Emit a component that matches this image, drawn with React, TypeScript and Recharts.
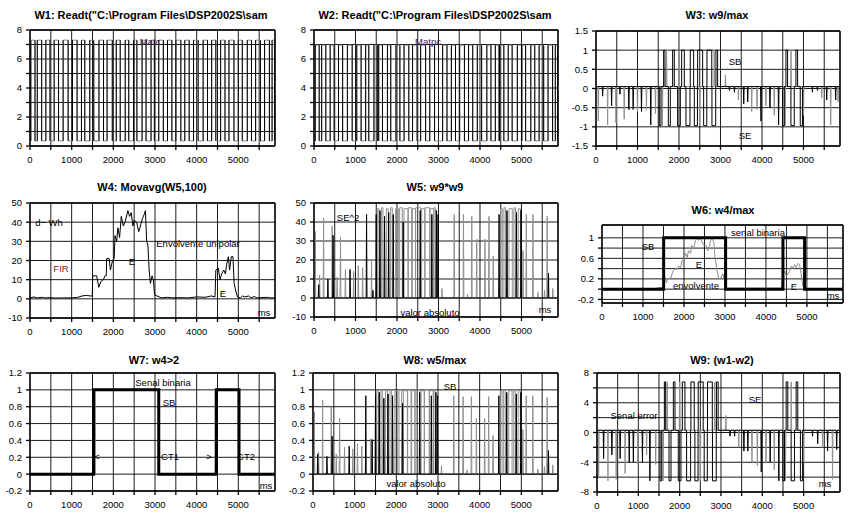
import React from 'react';
import { LineChart, Line, XAxis, YAxis, CartesianGrid, ReferenceLine } from 'recharts';

type Pt = { t: number; v: number | null };
type Pulse = [number, number];
type Spike = [number, number];
type Block = [number, number, number];

const X_MAX = 5880;
const X_TICKS = [0, 500, 1000, 1500, 2000, 2500, 3000, 3500, 4000, 4500, 5000, 5500];
const FONT = "'Liberation Sans', Arial, sans-serif";
const GRAY = '#8f8f8f';
const BLACK = '#000';

// W1 / W2: recorded pulse trains (high intervals, ms)
const w1Pulses: Pulse[] = [
  [20, 120], [175, 280], [380, 480], [580, 685], [795, 915], [1020, 1130], [1235, 1315], [1435, 1530],
  [1655, 1765], [1850, 1975], [2070, 2165], [2285, 2370], [2485, 2565], [2690, 2785], [2905, 2985],
  [3090, 3200], [3300, 3405], [3500, 3620], [3715, 3820], [3925, 4035], [4155, 4260], [4360, 4460],
  [4575, 4680], [4775, 4895], [5000, 5095], [5215, 5315], [5415, 5530], [5630, 5745], [5810, 5870],
];
const w2Pulses: Pulse[] = [
  [30, 125], [185, 285], [390, 485], [590, 690], [805, 920], [1030, 1135], [1245, 1320], [1445, 1535],
  [1560, 1650], [1770, 1850], [1975, 2070], [2170, 2285], [2375, 2485], [2570, 2690], [2790, 2905],
  [3100, 3205], [3310, 3410], [3510, 3625], [3725, 3825], [3935, 4040], [4165, 4265], [4370, 4460],
  [4470, 4575], [4680, 4775], [4900, 5000], [5010, 5100], [5225, 5320], [5425, 5535], [5640, 5750], [5815, 5870],
];
const w1Levels = [0.35, 7.3];
const w2Levels = [0.35, 6.95];

// plateaus of the error signal inside the two active zones: [start, end, sign]
const activeBlocks: Block[] = [
  [1526, 1566, -1], [1630, 1662, 1], [1743, 1791, -1], [1847, 1887, 1], [1967, 2032, -1], [2064, 2128, 1],
  [2168, 2265, -1], [2272, 2353, 1], [2369, 2445, -1], [2449, 2570, 1], [2594, 2670, -1], [2674, 2790, 1],
  [2794, 2885, -1], [2891, 2931, 1], [4497, 4537, -1], [4577, 4617, 1], [4698, 4778, -1], [4818, 4858, 1],
  [4922, 4975, -1],
];

// W3: w9/max
const w3Gray: Spike[] = [
  [56, -0.85], [280, -0.95], [480, -0.9], [680, -0.8], [1000, -0.6], [1216, -0.55], [1432, -0.65],
  [1600, -0.97], [1700, 1], [2000, 1], [2500, -0.97], [2850, 1], [3120, 0.35], [3432, -0.3], [3752, -0.6],
  [3880, -0.55], [4096, -0.45], [4296, -0.7], [4560, -0.97], [4700, 1], [5000, -0.7], [5440, -0.25],
  [5656, -0.95], [5832, -0.35],
];
const w3Black: Spike[] = [
  [160, -0.2], [376, -0.45], [576, -0.15], [792, -0.55], [896, -0.55], [1096, -0.6], [1320, -0.95],
  [3216, -0.05], [3336, -0.1], [3560, -0.4], [3656, -0.35], [3976, -0.85], [4192, -0.5], [4400, -0.95],
  [5216, -0.1], [5336, -0.05], [5560, -0.3], [5776, -0.3],
];
const w3Levels = [0.05, 1, -0.97]; // base, high, low

// W4: moving average envelope
const w4Curve: Spike[] = [
  [0, 0.5], [100, 1], [150, 0.5], [300, 0.8], [350, 0.5], [500, 0.6], [600, 0.4], [800, 0.5], [1000, 0.5],
  [1150, 0.8], [1250, 1.5], [1350, 1.8], [1450, 1.5], [1495, 1.5], [1505, 12], [1600, 12], [1650, 6],
  [1700, 9], [1760, 10], [1800, 12], [1830, 12], [1840, 21], [1900, 21], [1930, 15], [1980, 20], [2020, 21],
  [2040, 33], [2080, 30], [2110, 37], [2150, 32], [2190, 43], [2240, 38], [2280, 40], [2350, 46], [2390, 43],
  [2430, 45], [2470, 38], [2500, 41], [2560, 40], [2610, 35], [2650, 38], [2700, 42], [2740, 44], [2770, 46],
  [2800, 30], [2830, 28], [2860, 15], [2890, 8], [2930, 12], [2960, 10], [2990, 2], [3050, 1.5], [3150, 0.5],
  [3300, 0.8], [3400, 0.5], [3600, 0.6], [3800, 0.5], [4000, 1], [4200, 0.8], [4350, 1.5], [4440, 1],
  [4460, 15], [4520, 16], [4560, 10], [4600, 13], [4650, 15], [4690, 13], [4720, 18], [4760, 22], [4790, 15],
  [4830, 22], [4870, 22], [4900, 8], [4940, 4], [4980, 1], [5050, 0.5], [5100, 1.5], [5150, 1], [5250, 1.5],
  [5300, 0.5], [5380, 1.2], [5450, 0.5], [5700, 0.8], [5760, 0.5], [5870, 0.5],
];

// W5: w9*w9
const w5Gray: Spike[] = [
  [32, 35], [135, 12], [231, 42], [438, 38], [558, 11], [638, 32], [757, 15], [956, 14], [1068, 17],
  [1172, 16], [1387, 20], [3084, 5], [3379, 44], [3602, 44], [3698, 2], [3802, 43], [3921, 31],
  [4120, 31], [4216, 43], [4320, 22], [5037, 25], [5117, 44], [5276, 44], [5396, 3], [5555, 4],
  [5619, 43], [5755, 5],
];
const w5Black: Spike[] = [
  [112, 7], [335, 10], [460, 33], [869, 15], [1267, 44], [1420, 4], [1500, 44], [1590, 46], [1700, 43],
  [1800, 45], [1910, 44], [2150, 40], [2560, 46], [2840, 44], [2950, 46], [2989, 44], [4460, 44],
  [4650, 46], [4880, 45], [4990, 46], [5651, 13],
];
const w5Levels = [0, 47.5, 47];

// W6: w4/max
const w6Binary: Pulse[] = [[1504, 3016], [4415, 4943]];
const w6Curve: Spike[] = [
  [0, 0.01], [1300, 0.01], [1380, 0.03], [1490, 0.03], [1504, 0.15], [1530, 0.25], [1570, 0.12], [1610, 0.2],
  [1680, 0.22], [1730, 0.35], [1790, 0.4], [1830, 0.38], [1870, 0.45], [1920, 0.42], [1950, 0.55], [2000, 0.58],
  [2040, 0.7], [2080, 0.62], [2110, 0.75], [2160, 0.7], [2190, 0.85], [2240, 0.8], [2280, 0.95], [2325, 1.0],
  [2360, 0.95], [2400, 1.0], [2440, 0.92], [2490, 0.85], [2540, 0.85], [2580, 0.75], [2600, 0.78], [2650, 0.95],
  [2690, 1.0], [2730, 0.9], [2760, 0.6], [2810, 0.35], [2846, 0.2], [2900, 0.22], [2950, 0.3], [2990, 0.15],
  [3030, 0.02], [4370, 0.02], [4420, 0.3], [4460, 0.35], [4500, 0.25], [4540, 0.3], [4580, 0.35], [4620, 0.45],
  [4660, 0.4], [4700, 0.48], [4740, 0.42], [4780, 0.5], [4820, 0.48], [4860, 0.3], [4900, 0.05], [4950, 0.01],
  [5870, 0.01],
];

// W7: w4>2
const w7Binary: Pulse[] = [[1528, 3090], [4472, 5016]];
const w7Shadow: Pulse[] = [[1565, 3082], [4445, 5008]];

// W8: w5/max
const w8Gray: Spike[] = [
  [32, 0.74], [135, 0.26], [231, 0.88], [438, 0.8], [558, 0.24], [638, 0.66], [757, 0.32], [956, 0.3],
  [1068, 0.36], [1172, 0.33], [1387, 0.42], [3084, 0.1], [3379, 0.93], [3602, 0.92], [3698, 0.05],
  [3802, 0.92], [3921, 0.66], [4120, 0.66], [4216, 0.92], [4320, 0.46], [5037, 0.53], [5117, 0.93],
  [5276, 0.93], [5396, 0.06], [5555, 0.09], [5619, 0.91], [5755, 0.11],
];
const w8Black: Spike[] = [
  [112, 0.24], [335, 0.21], [460, 0.45], [869, 0.33], [1267, 0.93], [1420, 0.41], [1500, 0.93],
  [1590, 0.97], [1700, 0.9], [1800, 0.95], [1910, 0.93], [2150, 0.84], [2560, 0.97], [2840, 0.93],
  [2950, 0.97], [2989, 0.93], [4460, 0.93], [4650, 0.97], [4880, 0.95], [4990, 0.97], [5651, 0.28],
];
const w8Levels = [0, 1.0, 0.99];

// W9: w1-w2
const w9Gray: Spike[] = [
  [40, -6], [265, -6.5], [465, -6.3], [680, -5.5], [990, -4.2], [1200, -3], [1420, -4.3], [1600, -6.5],
  [1700, 6.8], [2000, 6.8], [2500, -6.5], [2850, 6.8], [3120, 2.3], [3430, -2], [3750, -4], [3880, -4.5],
  [4090, -4], [4290, -5], [4560, -6.5], [4700, 6.8], [5000, -4], [5460, -2], [5700, -6.3],
];
const w9Black: Spike[] = [
  [160, -3.5], [360, -3], [560, -3.5], [780, -4], [880, -4], [1100, -4], [1280, -6.5], [3220, -0.5],
  [3330, -0.5], [3555, -2.5], [3650, -2.5], [3975, -5.3], [4190, -4], [4400, -6.5], [5215, -0.5],
  [5340, -1.5], [5580, -2.5], [5800, -2.3],
];
const w9Levels = [0.3, 6.8, -6.5];

function squareWave(pulses: Pulse[], lo: number, hi: number): Pt[] {
  const pts: Pt[] = [{ t: 0, v: lo }];
  pulses.forEach(([a, b]) => {
    pts.push({ t: a, v: lo }, { t: a, v: hi }, { t: b, v: hi }, { t: b, v: lo });
  });
  pts.push({ t: X_MAX, v: lo });
  return pts;
}

function edgeLines(pulses: Pulse[], lo: number, hi: number): Pt[] {
  const pts: Pt[] = [];
  pulses.forEach(([a, b]) => {
    pts.push({ t: a, v: lo }, { t: a, v: hi }, { t: a, v: null });
    pts.push({ t: b, v: hi }, { t: b, v: lo }, { t: b, v: null });
  });
  return pts;
}

function spikeTrace(base: number, spikes: Spike[], blocks: Block[] = []): Pt[] {
  const ev = [
    ...spikes.map(([t, v]) => ({ a: t - 10, b: t + 10, v, s: true })),
    ...blocks.map(([a, b, v]) => ({ a, b, v, s: false })),
  ].sort((p, q) => p.a - q.a);
  const pts: Pt[] = [{ t: 0, v: base }];
  ev.forEach((e) => {
    if (e.s) pts.push({ t: e.a, v: base }, { t: (e.a + e.b) / 2, v: e.v }, { t: e.b, v: base });
    else pts.push({ t: e.a, v: base }, { t: e.a, v: e.v }, { t: e.b, v: e.v }, { t: e.b, v: base });
  });
  pts.push({ t: X_MAX, v: base });
  return pts;
}

const withLevels = (hi: number, lo: number): Block[] =>
  activeBlocks.map(([a, b, s]) => [a, b, s > 0 ? hi : lo]);

const curve = (pairs: Spike[]): Pt[] => pairs.map(([t, v]) => ({ t, v }));

interface Series { data: Pt[]; stroke: string; width: number }
interface Note { text: string; x: number; y: number; color?: string }
interface PanelProps {
  title: string;
  titleX: number;
  titleY: number;
  rect: [number, number, number, number];
  yDomain: [number, number];
  yTicks: number[];
  yLabels: number[];
  series: Series[];
  notes?: Note[];
}

function Panel({ title, titleX, titleY, rect, yDomain, yTicks, yLabels, series, notes = [] }: PanelProps) {
  const [x0, y0, x1, y1] = rect;
  const tickStyle = { fill: '#000', fontSize: 9.5 };
  return (
    <>
      <div
        style={{
          position: 'absolute', left: titleX - 150, width: 300, top: titleY - 7, textAlign: 'center',
          fontWeight: 'bold', fontSize: 11, whiteSpace: 'nowrap', lineHeight: '14px',
        }}
      >
        {title}
      </div>
      <div style={{ position: 'absolute', left: x0 - 32, top: y0 - 6 }}>
        <LineChart width={x1 - x0 + 38} height={y1 - y0 + 30} margin={{ top: 6, right: 6, left: 0, bottom: 0 }}>
          <CartesianGrid stroke="#000" strokeWidth={0.9} />
          <XAxis
            type="number" dataKey="t" domain={[0, X_MAX]} ticks={X_TICKS} interval={0} allowDataOverflow
            tickFormatter={(v: number) => (v % 1000 === 0 ? String(v) : '')}
            height={24} tickSize={4} tickMargin={6} stroke="#000" strokeWidth={1.3} tick={tickStyle}
          />
          <YAxis
            type="number" domain={yDomain} ticks={yTicks} interval={0} allowDataOverflow
            tickFormatter={(v: number) => (yLabels.includes(v) ? String(v) : '')}
            width={32} tickSize={4} tickMargin={4} stroke="#000" strokeWidth={1.3} tick={tickStyle}
          />
          <ReferenceLine y={yDomain[1]} stroke="#000" strokeWidth={1.3} />
          <ReferenceLine x={X_MAX} stroke="#000" strokeWidth={1.3} />
          {series.map((s, i) => (
            <Line
              key={i} data={s.data} dataKey="v" type="linear" stroke={s.stroke} strokeWidth={s.width}
              dot={false} activeDot={false} isAnimationActive={false} connectNulls={false}
            />
          ))}
        </LineChart>
      </div>
      {notes.map((n, i) => (
        <div
          key={i}
          style={{
            position: 'absolute', left: n.x, top: n.y, transform: 'translate(-50%, -50%)', fontSize: 9.5,
            color: n.color || '#000', whiteSpace: 'nowrap', lineHeight: 1,
          }}
        >
          {n.text}
        </div>
      ))}
    </>
  );
}

const T8 = [0, 1, 2, 3, 4, 5, 6, 7, 8];
const L8 = [0, 2, 4, 6, 8];
const T50 = [-10, 0, 10, 20, 30, 40, 50];
const T12 = [-0.2, 0, 0.2, 0.4, 0.6, 0.8, 1, 1.2];

export default function App() {
  return (
    <div style={{ position: 'absolute', left: 0, top: 0, width: 855, height: 516, background: '#fff', fontFamily: FONT, overflow: 'hidden' }}>
      <Panel
        title={'W1: Readt("C:\\Program Files\\DSP2002S\\sam'} titleX={151} titleY={15}
        rect={[30, 30, 275, 146]} yDomain={[0, 8]} yTicks={T8} yLabels={L8}
        series={[
          { data: squareWave(w1Pulses, w1Levels[0], w1Levels[1]), stroke: GRAY, width: 1 },
          { data: edgeLines(w1Pulses, w1Levels[0], w1Levels[1]), stroke: BLACK, width: 1 },
        ]}
        notes={[{ text: 'Matc', x: 150, y: 42, color: '#3a2050' }]}
      />
      <Panel
        title={'W2: Readt("C:\\Program Files\\DSP2002S\\sam'} titleX={435} titleY={15}
        rect={[314, 30, 558, 146]} yDomain={[0, 8]} yTicks={T8} yLabels={L8}
        series={[
          { data: squareWave(w2Pulses, w2Levels[0], w2Levels[1]), stroke: GRAY, width: 1 },
          { data: edgeLines(w2Pulses, w2Levels[0], w2Levels[1]), stroke: BLACK, width: 1 },
        ]}
        notes={[{ text: 'Matpc', x: 428, y: 42, color: '#3a2050' }]}
      />
      <Panel
        title="W3: w9/max" titleX={717} titleY={15}
        rect={[596, 31, 840, 146]} yDomain={[-1.5, 1.5]} yTicks={[-1.5, -1, -0.5, 0, 0.5, 1, 1.5]}
        yLabels={[-1.5, -1, -0.5, 0, 0.5, 1, 1.5]}
        series={[
          { data: spikeTrace(w3Levels[0], w3Gray), stroke: GRAY, width: 1 },
          { data: spikeTrace(w3Levels[0], w3Black, withLevels(w3Levels[1], w3Levels[2])), stroke: BLACK, width: 1 },
        ]}
        notes={[{ text: 'SB', x: 735, y: 62 }, { text: 'SE', x: 745, y: 136 }]}
      />
      <Panel
        title="W4: Movavg(W5,100)" titleX={152} titleY={187}
        rect={[30, 203, 275, 318]} yDomain={[-10, 50]} yTicks={T50} yLabels={T50}
        series={[{ data: curve(w4Curve), stroke: BLACK, width: 1 }]}
        notes={[
          { text: 'd\u2212 Wh', x: 49, y: 223 },
          { text: 'FIR', x: 61, y: 269, color: '#7a1c1c' },
          { text: 'E', x: 132, y: 262 },
          { text: 'Envolvente unipolar', x: 198, y: 244 },
          { text: 'E', x: 223, y: 294 },
          { text: 'ms', x: 264, y: 313 },
        ]}
      />
      <Panel
        title="W5: w9*w9" titleX={435} titleY={187}
        rect={[314, 203, 558, 317]} yDomain={[-10, 50]} yTicks={T50} yLabels={T50}
        series={[
          { data: spikeTrace(w5Levels[0], w5Gray, withLevels(w5Levels[1], w5Levels[2])), stroke: GRAY, width: 1 },
          { data: spikeTrace(w5Levels[0], w5Black), stroke: BLACK, width: 1 },
        ]}
        notes={[
          { text: 'SE^2', x: 348, y: 218 },
          { text: 'valor absoluto', x: 430, y: 313 },
          { text: 'ms', x: 545, y: 310 },
        ]}
      />
      <Panel
        title="W6: w4/max" titleX={723} titleY={210}
        rect={[602, 225, 843, 303]} yDomain={[-0.27, 1.25]} yTicks={[-0.2, 0, 0.2, 0.4, 0.6, 0.8, 1]}
        yLabels={[-0.2, 0.2, 0.6, 1]}
        series={[
          { data: curve(w6Curve), stroke: GRAY, width: 1 },
          { data: squareWave(w6Binary, 0, 1), stroke: BLACK, width: 3 },
        ]}
        notes={[
          { text: 'senal binaria', x: 758, y: 233 },
          { text: 'SB', x: 648, y: 247 },
          { text: 'E', x: 699, y: 265 },
          { text: 'envolvente', x: 696, y: 286 },
          { text: 'E', x: 794, y: 287 },
          { text: 'ms', x: 833, y: 296 },
        ]}
      />
      <Panel
        title="W7: w4>2" titleX={154} titleY={360}
        rect={[30, 373, 275, 491]} yDomain={[-0.2, 1.2]} yTicks={T12} yLabels={T12}
        series={[
          { data: squareWave(w7Shadow, 0, 1), stroke: GRAY, width: 1 },
          { data: squareWave(w7Binary, 0, 1), stroke: BLACK, width: 3 },
        ]}
        notes={[
          { text: 'Senal binaria', x: 163, y: 383 },
          { text: 'SB', x: 169, y: 403 },
          { text: '<', x: 97, y: 457 },
          { text: 'CT1', x: 170, y: 457 },
          { text: '>', x: 209, y: 457 },
          { text: 'CT2', x: 246, y: 457 },
          { text: 'ms', x: 266, y: 486 },
        ]}
      />
      <Panel
        title="W8: w5/max" titleX={435} titleY={360}
        rect={[313, 373, 558, 491]} yDomain={[-0.2, 1.2]} yTicks={T12} yLabels={T12}
        series={[
          { data: spikeTrace(w8Levels[0], w8Gray, withLevels(w8Levels[1], w8Levels[2])), stroke: GRAY, width: 1 },
          { data: spikeTrace(w8Levels[0], w8Black), stroke: BLACK, width: 1 },
        ]}
        notes={[
          { text: 'SB', x: 450, y: 387 },
          { text: 'valor absoluto', x: 416, y: 484 },
        ]}
      />
      <Panel
        title="W9: (w1-w2)" titleX={722} titleY={360}
        rect={[597, 373, 840, 492]} yDomain={[-8, 8]} yTicks={[-8, -6, -4, -2, 0, 2, 4, 6, 8]}
        yLabels={[-8, -4, 0, 4, 8]}
        series={[
          { data: spikeTrace(w9Levels[0], w9Gray), stroke: GRAY, width: 1 },
          { data: spikeTrace(w9Levels[0], w9Black, withLevels(w9Levels[1], w9Levels[2])), stroke: BLACK, width: 1 },
        ]}
        notes={[
          { text: 'Senal error', x: 634, y: 416 },
          { text: 'SE', x: 755, y: 400 },
          { text: 'ms', x: 825, y: 484 },
        ]}
      />
    </div>
  );
}
